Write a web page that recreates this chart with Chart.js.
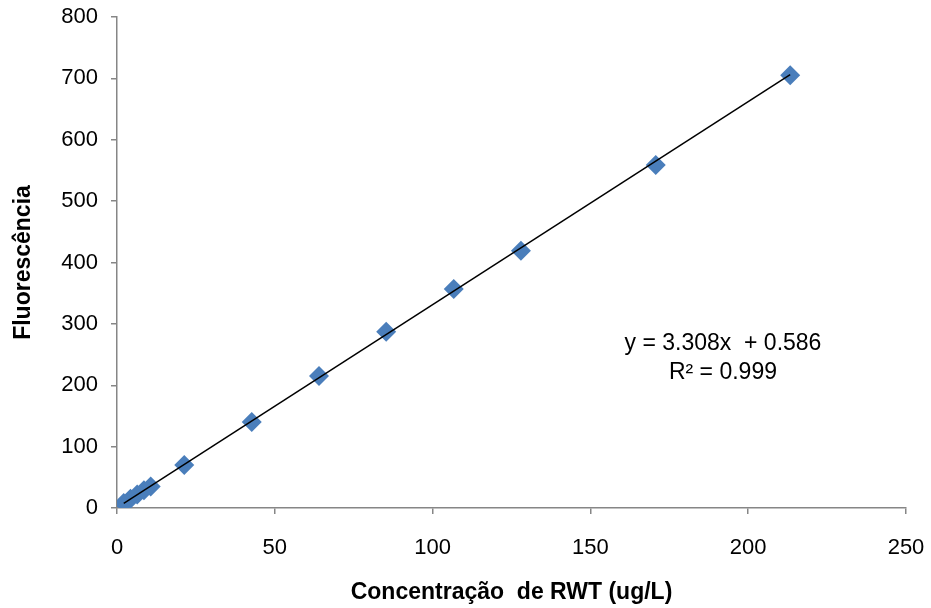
<!DOCTYPE html>
<html>
<head>
<meta charset="utf-8">
<script src="https://cdn.jsdelivr.net/npm/chart.js@4.4.0/dist/chart.umd.min.js"></script>
<style>
  html, body { margin: 0; padding: 0; background: #ffffff; }
  #wrap { width: 931px; height: 608px; }
</style>
</head>
<body>
<div id="wrap"><canvas id="c" width="931" height="608"></canvas></div>
<script>
// ---- Data ----
const concentrations = [2.13, 4.27, 6.4, 8.53, 10.67, 21.3, 42.7, 64, 85.3, 106.7, 128, 170.7, 213.3];
const fluorescence   = [8, 15, 22, 29, 35, 70, 140, 215, 287, 357, 419, 559, 705];
const xTicks = [0, 50, 100, 150, 200, 250];
const yTicks = [0, 100, 200, 300, 400, 500, 600, 700, 800];
const trendSlope = 3.308;
const trendIntercept = 0.586;
const equationLines = ['y = 3.308x  + 0.586', 'R² = 0.999'];
const xTitle = 'Concentração  de RWT (ug/L)';
const yTitle = 'Fluorescência';

const points = concentrations.map((x, i) => ({ x: x, y: fluorescence[i] }));
const xMinData = Math.min(...concentrations);
const xMaxData = Math.max(...concentrations);
const trendPoints = [xMinData, xMaxData].map(x => ({ x: x, y: trendSlope * x + trendIntercept }));

const FONT = "'Liberation Sans', Arial, sans-serif";
const AXIS_COLOR = '#868686';

const equationPlugin = {
  id: 'equationLabel',
  afterDatasetsDraw(chart) {
    const { ctx, scales } = chart;
    const cx = scales.x.getPixelForValue(192);
    const y1 = scales.y.getPixelForValue(268);
    const y2 = scales.y.getPixelForValue(221);
    ctx.save();
    ctx.fillStyle = '#000000';
    ctx.font = '23px ' + FONT;
    ctx.textAlign = 'center';
    ctx.textBaseline = 'middle';
    ctx.fillText(equationLines[0], cx, y1);
    ctx.fillText(equationLines[1], cx, y2);
    ctx.restore();
  }
};

new Chart(document.getElementById('c'), {
  type: 'scatter',
  data: {
    datasets: [
      {
        label: 'Linear',
        type: 'line',
        data: trendPoints,
        borderColor: '#000000',
        borderWidth: 1.5,
        pointRadius: 0,
        fill: false,
        tension: 0
      },
      {
        label: 'Fluorescência',
        data: points,
        pointStyle: 'rectRot',
        pointRadius: 10,
        pointHoverRadius: 10,
        backgroundColor: '#4a7ebb',
        borderColor: '#4a7ebb',
        borderWidth: 0
      }
    ]
  },
  options: {
    responsive: false,
    animation: false,
    events: [],
    layout: { padding: { left: 0, right: 25, top: 17, bottom: 0 } },
    plugins: {
      legend: { display: false },
      tooltip: { enabled: false },
      title: { display: false }
    },
    scales: {
      x: {
        type: 'linear',
        min: 0,
        max: 250,
        afterBuildTicks(scale) { scale.ticks = xTicks.map(v => ({ value: v })); },
        afterFit(scale) { scale.height = 100; scale.paddingLeft = 0; scale.paddingRight = 0; },
        border: { color: AXIS_COLOR, width: 1.5 },
        grid: { drawOnChartArea: false, drawTicks: true, tickLength: 6, color: AXIS_COLOR, lineWidth: 1.5 },
        ticks: { color: '#000000', font: { family: FONT, size: 22 }, padding: 21, maxRotation: 0 },
        title: {
          display: true,
          text: xTitle,
          color: '#000000',
          font: { family: FONT, size: 23, weight: 'bold' },
          padding: { top: 0, bottom: 2 }
        }
      },
      y: {
        type: 'linear',
        min: 0,
        max: 800,
        afterBuildTicks(scale) { scale.ticks = yTicks.map(v => ({ value: v })); },
        afterFit(scale) { scale.width = 117; scale.paddingTop = 0; scale.paddingBottom = 0; },
        border: { color: AXIS_COLOR, width: 1.5 },
        grid: { drawOnChartArea: false, drawTicks: true, tickLength: 6, color: AXIS_COLOR, lineWidth: 1.5 },
        ticks: { color: '#000000', font: { family: FONT, size: 22 }, padding: 13 },
        title: {
          display: true,
          text: yTitle,
          color: '#000000',
          font: { family: FONT, size: 23, weight: 'bold' },
          padding: { top: 10, bottom: 0 }
        }
      }
    }
  },
  plugins: [equationPlugin]
});
</script>
</body>
</html>
